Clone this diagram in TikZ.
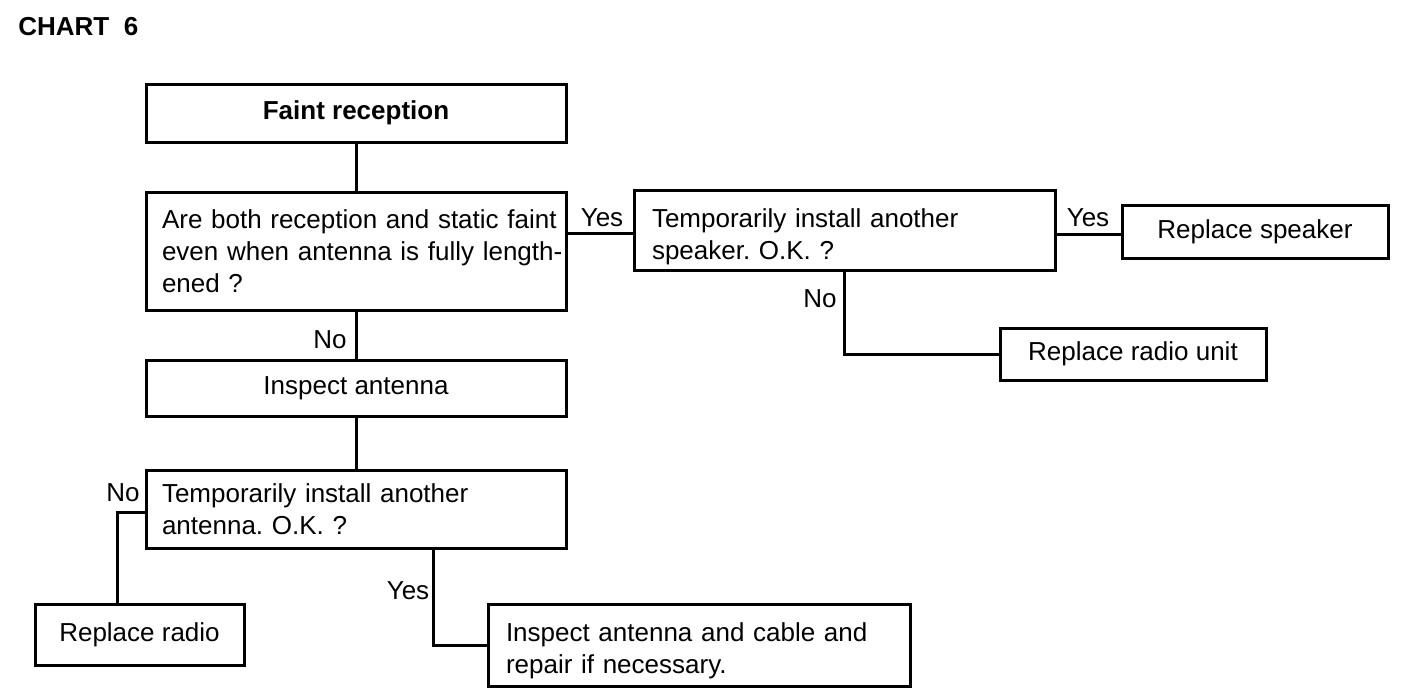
\documentclass[tikz,border=0pt]{standalone}
\usepackage{fontspec}
\setmainfont{Liberation Sans}
\newcommand{\fs}{\fontsize{13}{16}\selectfont}
\frenchspacing
\hfuzz=10pt
\begin{document}
\begin{tikzpicture}[x=0.5pt,y=-0.5pt,
  box/.style={draw, line width=1.5pt, inner xsep=8pt, inner ysep=0pt, align=left, font=\fs},
  cbox/.style={draw, line width=1.5pt, inner sep=0pt, align=center, font=\fs},
  conn/.style={line width=1.5pt},
  lab/.style={font=\fs, inner sep=0pt}]
\useasboundingbox (0,0) rectangle (1408,698);
\node[font=\fontsize{13}{14}\selectfont\bfseries, anchor=west, inner sep=0pt] (title) at (18,27) {CHART\ \ 6};

\node[cbox, minimum width=210pt, minimum height=29pt, font=\fs\bfseries] (b1) at (356,113) {Faint reception};
\node[box, minimum width=210pt, minimum height=59pt, text width=194pt] (b2) at (356,251)
  {\mbox{Are both reception and static faint}\\\mbox{even when antenna is fully length-}\\ened ?};
\node[box, inner xsep=9pt, minimum width=210.5pt, minimum height=40pt, text width=192.5pt] (b3) at (844.5,230)
  {\rule{0pt}{16.5pt}Temporarily install another\\speaker. O.K. ?};
\node[cbox, minimum width=133pt, minimum height=26.5pt] (b4) at (1255,231.5) {Replace speaker};
\node[cbox, minimum width=133pt, minimum height=26pt] (b5) at (1133,354) {Replace radio unit};
\node[cbox, minimum width=210pt, minimum height=28pt] (b6) at (356,388) {Inspect antenna};
\node[box, minimum width=210pt, minimum height=39pt, text width=194pt] (b7) at (356,509)
  {Temporarily install another\\antenna. O.K. ?};
\node[cbox, minimum width=104.5pt, minimum height=30.5pt] (b8) at (139.5,634.5) {Replace radio};
\node[box, inner xsep=9pt, minimum width=211pt, minimum height=41pt, text width=193pt] (b9) at (699,645)
  {\rule{0pt}{15.5pt}Inspect antenna and cable and\\repair if necessary.};

\draw[conn] (b1.south) -- (b2.north);
\draw[conn] ([yshift=-1.5pt]b2.east |- b3.west) -- ([yshift=-1.5pt]b3.west);
\draw[conn] ([yshift=-1.5pt]b3.east |- b4.west) -- ([yshift=-1.5pt]b4.west);
\draw[conn] (b3.south) |- (b5.west);
\draw[conn] (b2.south) -- (b6.north);
\draw[conn] (b6.south) -- (b7.north);
\draw[conn] ([yshift=-1.5pt]b7.west) -| ([xshift=-11.25pt]b8.north);
\draw[conn] ([xshift=38.5pt]b7.south) |- (b9.west);

\node[lab] (y1) at (602,218) {Yes};
\node[lab] (y2) at (1088,218) {Yes};
\node[lab] (n1) at (820,299) {No};
\node[lab] (n2) at (330,340) {No};
\node[lab] (n3) at (123,493) {No};
\node[lab] (y3) at (408,591) {Yes};
\end{tikzpicture}
\end{document}
